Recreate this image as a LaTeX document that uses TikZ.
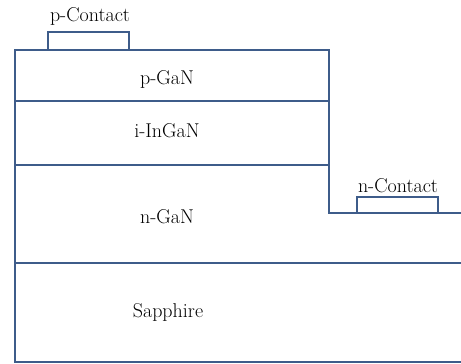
\documentclass[tikz,border=0pt]{standalone}
\usepackage{tikz}
\definecolor{edge}{RGB}{62,92,138}
\begin{document}
\begin{tikzpicture}[x=1pt,y=-1pt,
  layer/.style={draw=edge,line width=1.4pt},
  lbl/.style={font=\fontsize{20}{24}\selectfont,inner sep=0pt,text=black}]
\useasboundingbox (0,0) rectangle (461,364);
% mesa outline and substrate
\draw[layer] (461,213) -- (329,213) -- (329,50) -- (15,50) -- (15,362) -- (461,362);
% layer interfaces
\draw[layer] (15,101) -- (329,101);
\draw[layer] (15,165) -- (329,165);
\draw[layer] (15,263) -- (461,263);
% metal contacts
\draw[layer] (48,32) rectangle (129,50);
\draw[layer] (357,197) rectangle (438,213);
% labels
\node[lbl] (pc) at (90,16) {p-Contact};
\node[lbl] (pgan) at (167,79) {p-GaN};
\node[lbl] (ingan) at (167,131) {i-InGaN};
\node[lbl] (ngan) at (167,217) {n-GaN};
\node[lbl] (sap) at (168,312) {Sapphire};
\node[lbl] (nc) at (398,186) {n-Contact};
\end{tikzpicture}
\end{document}
